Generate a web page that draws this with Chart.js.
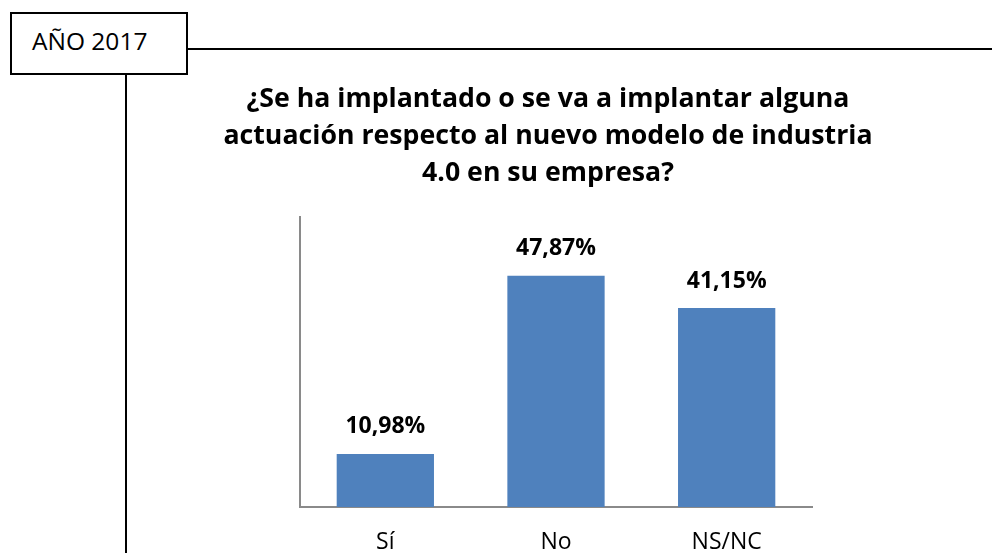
<!DOCTYPE html>
<html>
<head>
<meta charset="utf-8">
<script src="https://cdn.jsdelivr.net/npm/chart.js@4.4.0/dist/chart.umd.min.js"></script>
<style>
  html, body { margin: 0; padding: 0; background: #fff; }
  #wrap { position: relative; width: 992px; height: 553px; overflow: hidden; font-family: "Open Sans", sans-serif; }
  #c { position: absolute; left: 0; top: 0; }
  .box { position: absolute; left: 10px; top: 12px; width: 174px; height: 59px; border: 2px solid #000; background: #fff; }
  .box span { position: absolute; left: 20px; top: 10px; font-size: 24.5px; color: #000; white-space: nowrap; }
  .hline { position: absolute; left: 188px; top: 48px; width: 804px; height: 2px; background: #000; }
  .vline { position: absolute; left: 125px; top: 75px; width: 2px; height: 478px; background: #000; }
  .title { position: absolute; left: 148px; width: 800px; top: 78px; text-align: center; font-weight: bold; font-size: 26.7px; line-height: 37px; color: #000; white-space: nowrap; }
</style>
</head>
<body>
<div id="wrap">
  <canvas id="c" width="992" height="553"></canvas>
  <div class="hline"></div>
  <div class="vline"></div>
  <div class="box"><span>AÑO 2017</span></div>
  <div class="title">¿Se ha implantado o se va a implantar alguna<br>actuación respecto al nuevo modelo de industria<br>4.0 en su empresa?</div>
</div>
<script>
const categories = ["Sí", "No", "NS/NC"];
const values = [10.98, 47.87, 41.15];
const valueLabels = ["10,98%", "47,87%", "41,15%"];

const labelPlugin = {
  id: 'valueLabels',
  afterDatasetsDraw(chart) {
    const ctx = chart.ctx;
    const meta = chart.getDatasetMeta(0);
    ctx.save();
    ctx.font = 'bold 23px "Open Sans", sans-serif';
    ctx.fillStyle = '#000';
    ctx.textAlign = 'center';
    ctx.textBaseline = 'middle';
    meta.data.forEach((bar, i) => {
      ctx.fillText(valueLabels[i], bar.x, bar.y - 27);
    });
    ctx.restore();
  }
};

new Chart(document.getElementById('c'), {
  type: 'bar',
  data: {
    labels: categories,
    datasets: [{
      data: values,
      backgroundColor: '#4F81BD',
      borderWidth: 0,
      categoryPercentage: 1,
      barPercentage: 0.57
    }]
  },
  options: {
    responsive: false,
    animation: false,
    layout: { padding: { left: 300, top: 217, right: 180, bottom: 0 } },
    plugins: { legend: { display: false }, tooltip: { enabled: false }, title: { display: false } },
    scales: {
      y: {
        min: 0, max: 60,
        ticks: { display: false },
        grid: { display: false, drawTicks: false },
        border: { display: true, color: '#8a8a8a', width: 2 },
        afterFit(s) { s.width = 0; }
      },
      x: {
        ticks: { color: '#000', font: { size: 23, family: '"Open Sans", sans-serif' }, padding: 22 },
        grid: { display: false, drawTicks: false },
        border: { display: true, color: '#8a8a8a', width: 2 },
        afterFit(s) { s.height = 46; }
      }
    }
  },
  plugins: [labelPlugin]
});
</script>
</body>
</html>
